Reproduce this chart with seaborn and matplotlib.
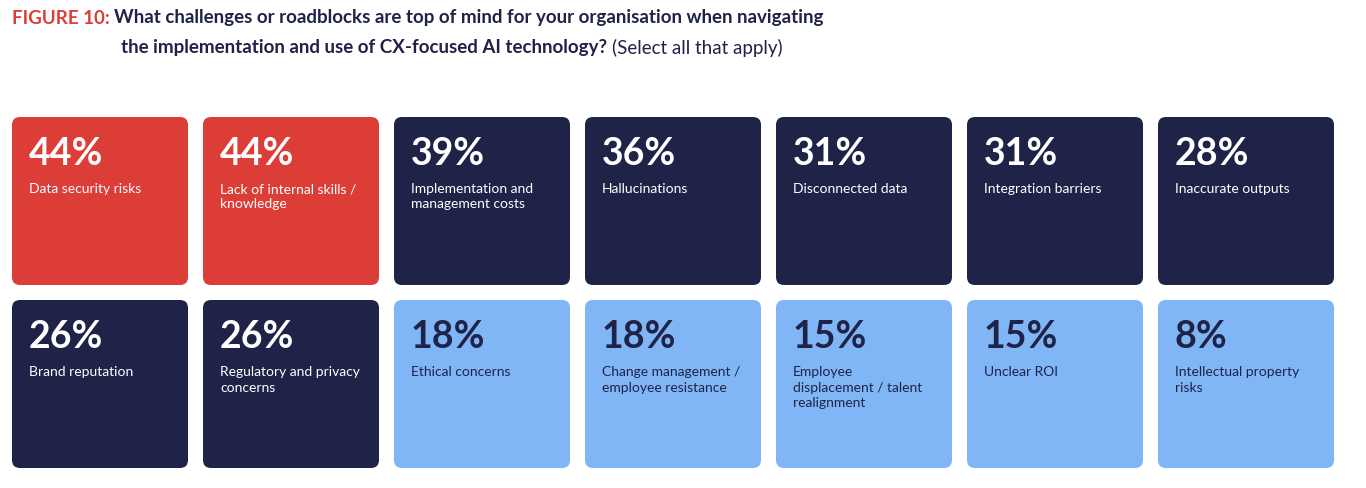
import matplotlib
matplotlib.use('Agg')
import matplotlib.pyplot as plt
from matplotlib.patches import FancyBboxPatch
import seaborn as sns

percents = [44, 44, 39, 36, 31, 31, 28, 26, 26, 18, 18, 15, 15, 8]
labels = [
    'Data security risks', 'Lack of internal skills /\nknowledge',
    'Implementation and\nmanagement costs', 'Hallucinations', 'Disconnected data',
    'Integration barriers', 'Inaccurate outputs', 'Brand reputation',
    'Regulatory and privacy\nconcerns', 'Ethical concerns',
    'Change management /\nemployee resistance',
    'Employee\ndisplacement / talent\nrealignment', 'Unclear ROI',
    'Intellectual property\nrisks',
]
tiers = ['top', 'top', 'mid', 'mid', 'mid', 'mid', 'mid', 'mid', 'mid',
         'low', 'low', 'low', 'low', 'low']

RED = '#DC3E37'
NAVY = '#1F2348'
LIGHT = '#80B6F6'
tile_color = {'top': RED, 'mid': NAVY, 'low': LIGHT}
text_color = {'top': 'white', 'mid': 'white', 'low': NAVY}

sns.set_theme(style='white', font='Lato')
fig = plt.figure(figsize=(13.66, 4.88), dpi=100)
ax = fig.add_axes([0, 0, 1, 1])
ax.set_xlim(0, 1366)
ax.set_ylim(488, 0)
ax.axis('off')

# tile grid: 7 columns x 2 rows
x0, y0, w, h, dx, dy = 12, 117, 176, 168, 191, 183
for i, (p, lab, t) in enumerate(zip(percents, labels, tiers)):
    col, row = i % 7, i // 7
    x = x0 + col * dx
    y = y0 + row * dy
    ax.add_patch(FancyBboxPatch((x + 6, y + 6), w - 12, h - 12,
                                boxstyle='round,pad=6,rounding_size=8',
                                fc=tile_color[t], ec='none'))
    ax.text(x + 17, y + 37, f'{p}%', fontsize=27, fontweight='bold',
            color=text_color[t], va='center', ha='left')
    ax.text(x + 17, y + 66, lab, fontsize=10, color=text_color[t],
            va='top', ha='left', linespacing=1.35)

# title built from pieces
fig.canvas.draw()
renderer = fig.canvas.get_renderer()
inv = ax.transData.inverted()


def put(x, y, s, color, weight):
    t = ax.text(x, y, s, fontsize=13.5, color=color, fontweight=weight,
                va='center', ha='left')
    bb = t.get_window_extent(renderer)
    return inv.transform((bb.x1, bb.y0))[0]


nx = put(12, 18, 'FIGURE 10: ', RED, 'bold')
put(nx, 18, 'What challenges or roadblocks are top of mind for your organisation when navigating',
    NAVY, 'bold')
nx = put(121, 48, 'the implementation and use of CX-focused AI technology? ', NAVY, 'bold')
put(nx, 48, '(Select all that apply)', NAVY, 'normal')

fig.savefig('out.png', dpi=100)
